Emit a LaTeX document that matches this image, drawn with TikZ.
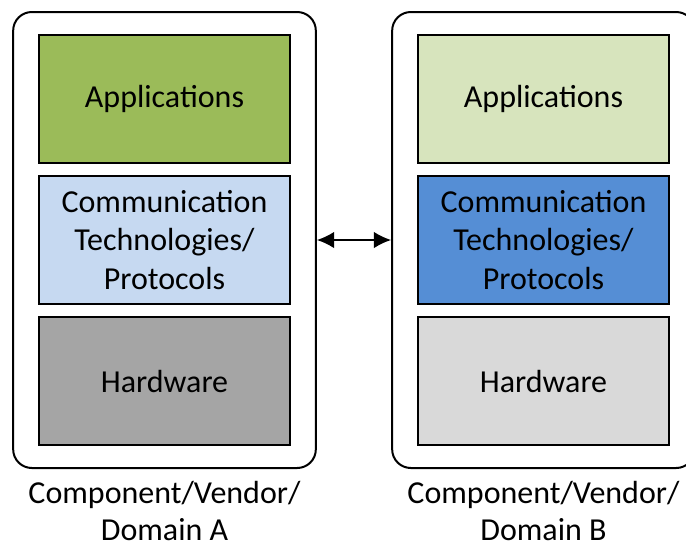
\documentclass[tikz,border=0pt]{standalone}
\usepackage{fontspec}
\setmainfont{Carlito}
\usetikzlibrary{positioning, fit, arrows.meta}
\definecolor{appAcol}{HTML}{9BBB59}
\definecolor{comAcol}{HTML}{C6D9F1}
\definecolor{hwAcol}{HTML}{A5A5A5}
\definecolor{appBcol}{HTML}{D7E4BD}
\definecolor{comBcol}{HTML}{558ED5}
\definecolor{hwBcol}{HTML}{D9D9D9}
\tikzstyle{layer} = [draw, line width=1.5pt, rectangle, minimum width=188pt, minimum height=96pt, inner sep=0pt, align=center, font=\fontsize{24}{29}\selectfont]
\tikzstyle{vendorbox} = [draw, line width=1.5pt, rectangle, rounded corners=14pt, inner xsep=18.75pt, inner ysep=16.5pt]
\tikzstyle{caption} = [align=center, inner sep=0pt, font=\fontsize{24}{27.5}\selectfont]

\begin{document}
\begin{tikzpicture}[x=0.75pt,y=-0.75pt,node distance=8.25pt,>={Latex[length=13pt,width=12.5pt]}]
\useasboundingbox (0,0) rectangle (686,547);
\clip (0,0) rectangle (686,547);
% domain A
\node [layer, fill=appAcol] (appA) at (164.5,99) {Applications};
\node [layer, fill=comAcol, below=of appA] (comA) {Communication\\Technologies/\\Protocols};
\node [layer, fill=hwAcol, below=of comA] (hwA) {Hardware};
\node [vendorbox, fit=(appA)(hwA)] (domA) {};
% domain B
\node [layer, fill=appBcol] (appB) at (543.5,99) {Applications};
\node [layer, fill=comBcol, below=of appB] (comB) {Communication\\Technologies/\\Protocols};
\node [layer, fill=hwBcol, below=of comB] (hwB) {Hardware};
\node [vendorbox, fit=(appB)(hwB)] (domB) {};

\draw [<->, line width=1.5pt] (domA.east) -- (domB.west);

\node [caption, below=9pt of domA] (capA) {Component/Vendor/\\Domain A};
\node [caption, below=9pt of domB] (capB) {Component/Vendor/\\Domain B};
\end{tikzpicture}
\end{document}
